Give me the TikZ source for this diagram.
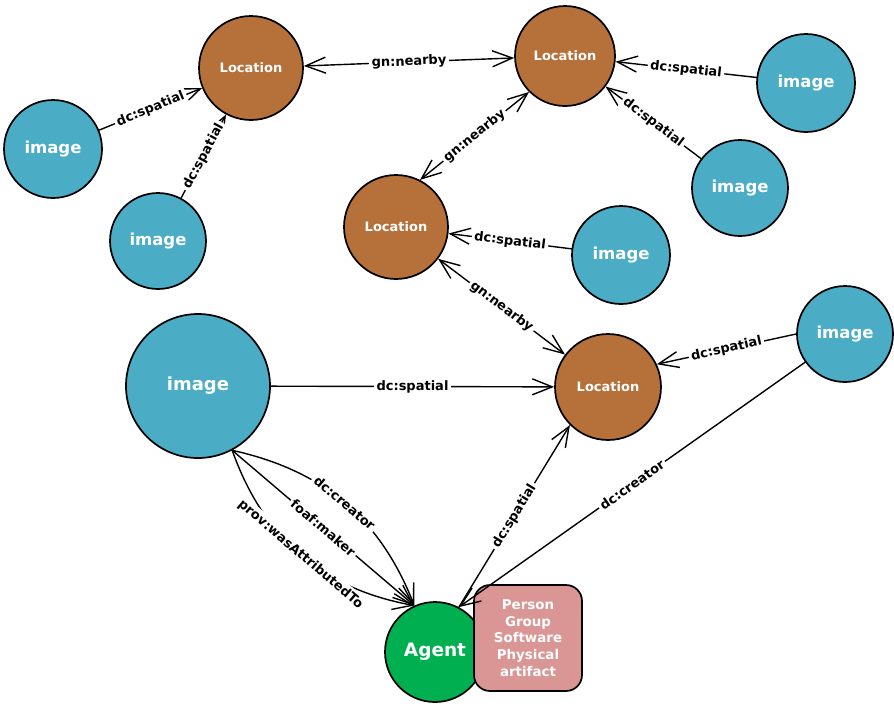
\documentclass[tikz,border=0pt]{standalone}
\usepackage{fontspec}
\setmainfont{DejaVu Sans}
\usetikzlibrary{arrows.meta}
\definecolor{imgblue}{HTML}{4BACC6}
\definecolor{locbrown}{HTML}{B6703A}
\definecolor{agentgreen}{HTML}{00B050}
\definecolor{kindpink}{HTML}{D99694}
\begin{document}
\begin{tikzpicture}[x=1pt,y=-1pt,>={Straight Barb[length=20pt,width=16pt]},line join=round,line cap=round,font=\fontsize{13}{15}\selectfont\bfseries,
	img/.style={circle,draw,line width=1.7pt,fill=imgblue,text=white,inner sep=0pt,font=\fontsize{16.5}{18}\selectfont\bfseries},
	loc/.style={circle,draw,line width=1.7pt,fill=locbrown,text=white,inner sep=0pt},
	rel/.style={line width=1.4pt},
	lbl/.style={sloped,fill=white,inner sep=2.5pt}]
	\useasboundingbox(0,0)rectangle(894,705);
	% nodes
	\foreach \n/\x/\y/\d in {L1/251/68/104,L2/565/56/100,L3/396/227/104,L4/608/387/106}
	\node[loc,minimum size=\d pt](\n)at(\x,\y){Location};
	\foreach \n/\x/\y/\d in {I1/53/149/98,I2/158/241/96,I3/806/83/98,I4/740/188/96,I5/621/255/98,I6/845/334/96}
	\node[img,minimum size=\d pt](\n)at(\x,\y){image};
	\node[img,minimum size=144pt,font=\fontsize{18}{20}\selectfont\bfseries](I0)at(198,386){image};
	\node[circle,draw,line width=1.7pt,fill=agentgreen,text=white,inner sep=0pt,minimum size=100pt,font=\fontsize{18.5}{20}\selectfont\bfseries](A)at(435,652){Agent};
	\node[draw,line width=1.7pt,fill=kindpink,text=white,rounded corners=16pt,minimum width=108pt,minimum height=106pt,align=center,font=\fontsize{13.4}{16.7}\selectfont\bfseries](K)at(528,638){Person\\Group\\Software\\Physical\\artifact};
	% relations
	\draw[rel,->](I1)--node[lbl]{dc:spatial}(L1);
	\draw[rel,->](I2)--node[lbl]{dc:spatial}(L1);
	\draw[rel,<->](L1)--node[lbl]{gn:nearby}(L2);
	\draw[rel,<->](L3.63)--node[lbl]{gn:nearby}(L2.225);
	\draw[rel,->](I3)--node[lbl]{dc:spatial}(L2);
	\draw[rel,->](I4)--node[lbl]{dc:spatial}(L2);
	\draw[rel,->](I5)--node[lbl]{dc:spatial}(L3);
	\draw[rel,<->](L3)--node[lbl]{gn:nearby}(L4);
	\draw[rel,->](I6.180)--node[lbl]{dc:spatial}(L4.25);
	\draw[rel,->](I0)--node[lbl]{dc:spatial}(L4);
	\draw[rel,->](A.62)--node[lbl]{dc:spatial}(L4.225);
	\draw[rel,->](I6)--node[lbl]{dc:creator}(A.62);
	\draw[rel,->](I0.-62)to[bend left=28]node[lbl]{dc:creator}(A.114);
	\draw[rel,->](I0.-62)--node[lbl]{foaf:maker}(A.114);
	\draw[rel,->](I0.-62)to[bend right=30]node[lbl]{prov:wasAttributedTo}(A.114);
\end{tikzpicture}
\end{document}
